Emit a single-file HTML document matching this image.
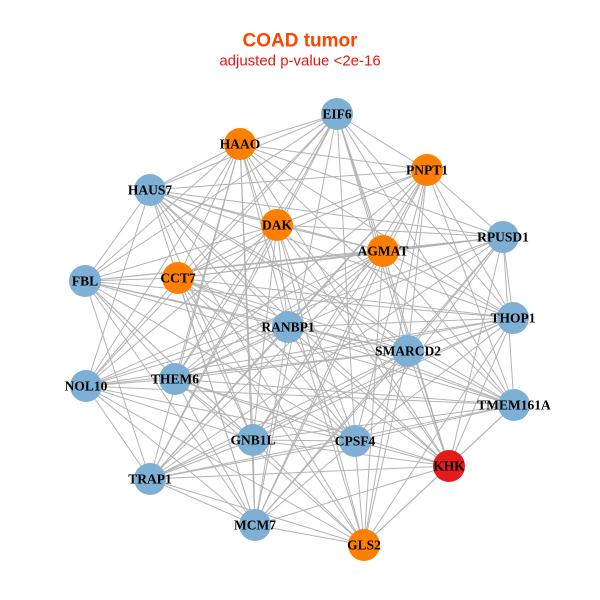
<!DOCTYPE html>
<html><head><meta charset="utf-8"><style>
html,body{margin:0;padding:0;background:#fff;width:600px;height:600px;overflow:hidden}
svg text{font-family:"Liberation Serif",serif;font-weight:bold;font-size:13.5px;text-anchor:middle;dominant-baseline:central}
</style></head><body>
<svg id="s" width="600" height="600" xmlns="http://www.w3.org/2000/svg">
<text x="300" y="41" style="font-family:'Liberation Sans',sans-serif;font-size:19px;fill:#ff4500">COAD tumor</text>
<text x="300" y="61" style="font-family:'Liberation Sans',sans-serif;font-size:15px;font-weight:normal;fill:#e8170c">adjusted p-value &lt;2e-16</text>
<g id="edges" stroke="#b3b3b3" stroke-width="1"></g>
<g id="nodes">
<circle cx="337" cy="114" r="16" fill="#7eb0d5"/><text x="337" y="114">EIF6</text>
<circle cx="240" cy="144" r="16" fill="#ff7f00"/><text x="240" y="144">HAAO</text>
<circle cx="427" cy="170" r="16" fill="#ff7f00"/><text x="427" y="170">PNPT1</text>
<circle cx="150" cy="190" r="16" fill="#7eb0d5"/><text x="150" y="190">HAUS7</text>
<circle cx="277" cy="225" r="16" fill="#ff7f00"/><text x="277" y="225">DAK</text>
<circle cx="503" cy="237" r="16" fill="#7eb0d5"/><text x="503" y="237">RPUSD1</text>
<circle cx="383" cy="251" r="16" fill="#ff7f00"/><text x="383" y="251">AGMAT</text>
<circle cx="85" cy="281" r="16" fill="#7eb0d5"/><text x="85" y="281">FBL</text>
<circle cx="178" cy="278" r="16" fill="#ff7f00"/><text x="178" y="278">CCT7</text>
<circle cx="513" cy="318" r="16" fill="#7eb0d5"/><text x="513" y="318">THOP1</text>
<circle cx="288" cy="327" r="16" fill="#7eb0d5"/><text x="288" y="327">RANBP1</text>
<circle cx="408" cy="351" r="16" fill="#7eb0d5"/><text x="408" y="351">SMARCD2</text>
<circle cx="86" cy="386" r="16" fill="#7eb0d5"/><text x="86" y="386">NOL10</text>
<circle cx="175" cy="379" r="16" fill="#7eb0d5"/><text x="175" y="379">THEM6</text>
<circle cx="514" cy="405" r="16" fill="#7eb0d5"/><text x="514" y="405">TMEM161A</text>
<circle cx="253" cy="440" r="16" fill="#7eb0d5"/><text x="253" y="440">GNB1L</text>
<circle cx="355" cy="441" r="16" fill="#7eb0d5"/><text x="355" y="441">CPSF4</text>
<circle cx="449" cy="466" r="16" fill="#e41a1c"/><text x="449" y="466">KHK</text>
<circle cx="150" cy="479" r="16" fill="#7eb0d5"/><text x="150" y="479">TRAP1</text>
<circle cx="255" cy="525" r="16" fill="#7eb0d5"/><text x="255" y="525">MCM7</text>
<circle cx="364" cy="545" r="16" fill="#ff7f00"/><text x="364" y="545">GLS2</text>
</g>
</svg>
<script>
var c=document.querySelectorAll('#nodes circle'),p=[];
c.forEach(function(e){p.push([+e.getAttribute('cx'),+e.getAttribute('cy')]);});
var g=document.getElementById('edges'),h='';
for(var i=0;i<p.length;i++)for(var j=i+1;j<p.length;j++){
 if((i*7+j*3)%5==0)continue;
 h+='<line x1="'+p[i][0]+'" y1="'+p[i][1]+'" x2="'+p[j][0]+'" y2="'+p[j][1]+'"/>';
}
g.innerHTML=h;
</script>
</body></html>
